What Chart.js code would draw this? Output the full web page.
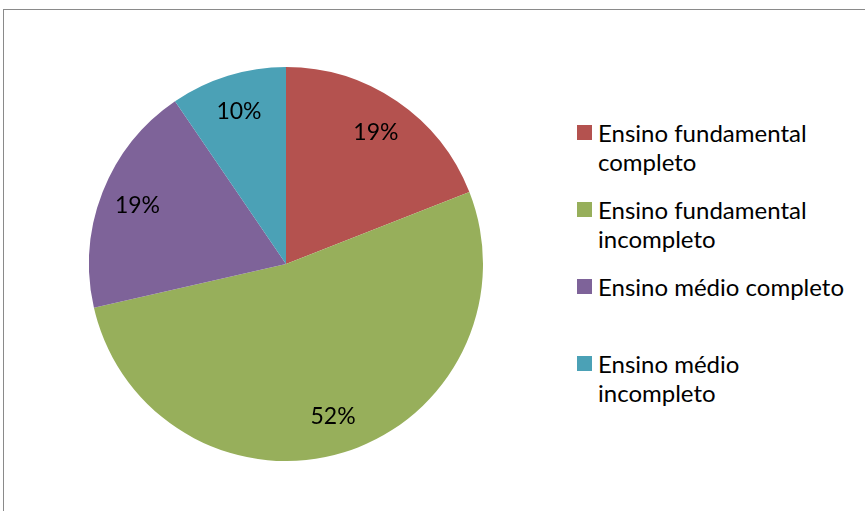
<!DOCTYPE html>
<html>
<head>
<meta charset="utf-8">
<script src="https://cdn.jsdelivr.net/npm/chart.js@4"></script>
<style>
    html, body { margin: 0; padding: 0; background: #fff; overflow: hidden; }
    body { width: 865px; height: 511px; position: relative; font-family: Lato, sans-serif; }
    #frame { position: absolute; left: 3px; top: 9px; width: 900px; height: 600px; border: 1px solid #8a8a8a; box-sizing: border-box; }
    #pie-box { position: absolute; left: 89px; top: 67px; width: 394px; height: 394px; }
    #legend { position: absolute; left: 577px; top: 118px; width: 285px; }
    .item { position: relative; height: 77px; padding-left: 21px; font-size: 24px; line-height: 29px; color: #000; white-space: nowrap; }
    .swatch { position: absolute; left: 0; top: 7px; width: 15px; height: 15px; }
</style>
</head>
<body>
<div id="frame"></div>
<div id="pie-box"><canvas id="pieChart"></canvas></div>
<div id="legend"></div>

<script>
// chart data
const categories = [
    ["Ensino fundamental", "completo"],
    ["Ensino fundamental", "incompleto"],
    ["Ensino médio completo"],
    ["Ensino médio", "incompleto"]
];
const counts = [4, 11, 4, 2];
const colors = ['#b4524f', '#97af5b', '#7e6399', '#4ba1b6'];

const total = counts.reduce((a, b) => a + b, 0);

// percent labels inside slices
const sliceLabels = {
    id: 'sliceLabels',
    afterDatasetsDraw(chart) {
        const ctx = chart.ctx;
        const meta = chart.getDatasetMeta(0);
        ctx.save();
        ctx.font = '23px Lato, sans-serif';
        ctx.fillStyle = '#000';
        ctx.textAlign = 'center';
        ctx.textBaseline = 'middle';
        meta.data.forEach((arc, i) => {
            const p = arc.getProps(['x', 'y', 'startAngle', 'endAngle', 'outerRadius'], true);
            const mid = (p.startAngle + p.endAngle) / 2;
            const r = p.outerRadius * 0.81;
            const pct = Math.round(counts[i] / total * 100) + '%';
            ctx.fillText(pct, p.x + Math.cos(mid) * r, p.y + Math.sin(mid) * r);
        });
        ctx.restore();
    }
};

new Chart(document.getElementById('pieChart').getContext('2d'), {
    type: 'pie',
    data: {
        labels: categories.map(c => c.join(' ')),
        datasets: [{
            data: counts,
            backgroundColor: colors,
            borderWidth: 0
        }]
    },
    options: {
        responsive: true,
        maintainAspectRatio: false,
        animation: false,
        layout: { padding: 0 },
        plugins: {
            legend: { display: false },
            tooltip: { enabled: false }
        }
    },
    plugins: [sliceLabels]
});

// legend on the right
const legend = document.getElementById('legend');
categories.forEach((lines, i) => {
    const item = document.createElement('div');
    item.className = 'item';
    item.innerHTML = '<span class="swatch" style="background:' + colors[i] + '"></span>' + lines.join('<br>');
    legend.appendChild(item);
});
</script>
</body>
</html>
